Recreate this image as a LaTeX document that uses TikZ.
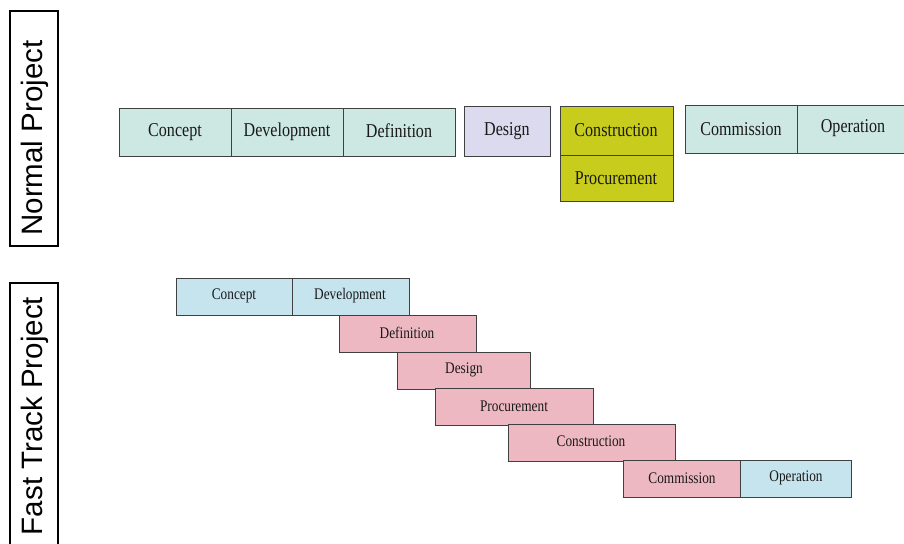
\documentclass[tikz,border=0pt]{standalone}
\usepackage{fontspec}
\setmainfont{Liberation Serif}[FakeStretch=0.82]
\setsansfont{Liberation Sans}
\definecolor{phteal}{HTML}{CDE8E2}
\definecolor{phlav}{HTML}{DCDAEE}
\definecolor{phlime}{HTML}{C8CC1C}
\definecolor{phblue}{HTML}{C6E4EE}
\definecolor{phpink}{HTML}{EEB8C2}
\tikzset{
  x=1pt, y=-1pt,
  sidebox/.style={draw=black, line width=2pt},
  sidetext/.style={font=\sffamily\fontsize{29.5}{29.5}\selectfont, rotate=90, anchor=center},
  bigbox/.style={draw=black!75, line width=0.9pt},
  bigtext/.style={font=\fontsize{19.6}{19.6}\selectfont, anchor=center, text=black!90},
  smallbox/.style={draw=black!75, line width=0.7pt},
  smalltext/.style={font=\fontsize{16.2}{16.2}\selectfont, anchor=center, text=black!90},
}
\begin{document}
\begin{tikzpicture}
\useasboundingbox (0,0) rectangle (904,543);
% side labels
\draw[sidebox] (10,11) rectangle (58,246);
\node[sidetext] (lblnormal) at (35,138) {Normal Project};
\draw[sidebox] (10,283) rectangle (58,550);
\node[sidetext] (lblfast) at (35,416) {Fast Track Project};

% normal project sequence
\draw[bigbox, fill=phteal] (119,108) rectangle (455,156);
\draw[bigbox] (231,108) -- (231,156) (343,108) -- (343,156);
\node[bigtext] (nconcept) at (175,132) {Concept};
\node[bigtext] (ndevel) at (287,132) {Development};
\node[bigtext] (ndefin) at (399,131) {Definition};
\draw[bigbox, fill=phlav] (464,106) rectangle (550,156);
\node[bigtext] (ndesign) at (507,131) {Design};
\draw[bigbox, fill=phlime] (560,106) rectangle (673,201);
\draw[bigbox] (560,155) -- (673,155);
\node[bigtext] (nconstr) at (616,130) {Construction};
\node[bigtext] (nprocur) at (616,178) {Procurement};
\draw[bigbox, fill=phteal] (685,105) rectangle (910,153);
\draw[bigbox] (797,105) -- (797,153);
\node[bigtext] (ncommis) at (741,129) {Commission};
\node[bigtext] (noper) at (853,128) {Operation};

% fast track sequence
\draw[smallbox, fill=phblue] (176,278) rectangle (409,315);
\draw[smallbox] (292,278) -- (292,315);
\node[smalltext] (fconcept) at (234,296) {Concept};
\node[smalltext] (fdevel) at (350,296) {Development};
\draw[smallbox, fill=phpink] (339,315) rectangle (476,352);
\node[smalltext] (fdefin) at (407,333) {Definition};
\draw[smallbox, fill=phpink] (397,352) rectangle (530,389);
\node[smalltext] (fdesign) at (464,370) {Design};
\draw[smallbox, fill=phpink] (435,388) rectangle (593,425);
\node[smalltext] (fprocur) at (514,406) {Procurement};
\draw[smallbox, fill=phpink] (508,424) rectangle (675,461);
\node[smalltext] (fconstr) at (591,441) {Construction};
\draw[smallbox, fill=phpink] (623,460) rectangle (740,497);
\node[smalltext] (fcommis) at (682,478) {Commission};
\draw[smallbox, fill=phblue] (740,460) rectangle (851,497);
\node[smalltext] (foper) at (796,478) {Operation};
\end{tikzpicture}
\end{document}
